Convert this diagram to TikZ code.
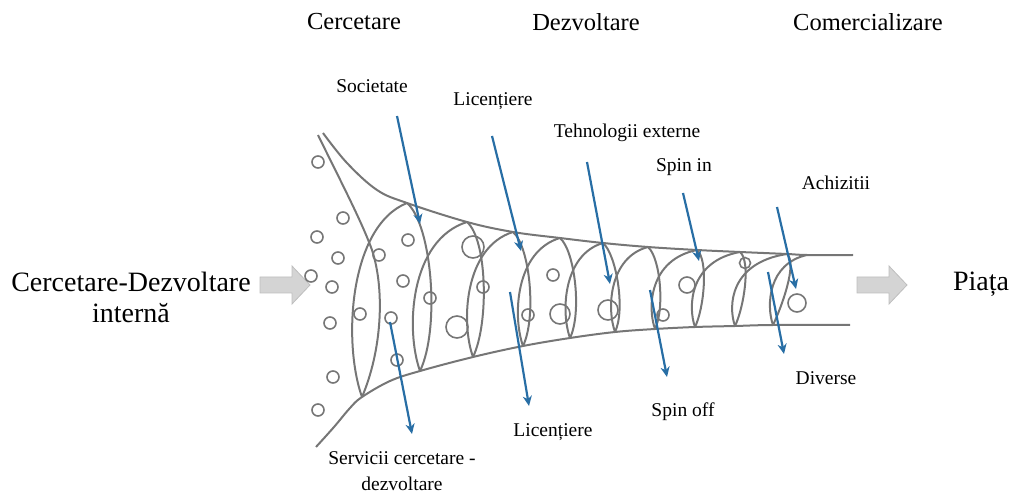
\documentclass[tikz,border=0pt]{standalone}
\usepackage{fontspec}
\setmainfont{Liberation Serif}
\usetikzlibrary{arrows.meta}
\definecolor{lensgray}{RGB}{118,118,118}
\definecolor{arrowblue}{RGB}{40,110,165}
\definecolor{blockfill}{RGB}{212,212,212}
\definecolor{blockedge}{RGB}{190,190,190}
\begin{document}
\begin{tikzpicture}[x=1pt,y=1pt,
  lens/.style={draw=lensgray, line width=2pt},
  dot/.style={draw=lensgray, line width=1.6pt},
  flow/.style={draw=arrowblue, line width=2.2pt, -{Stealth[length=10pt,width=9pt,inset=3pt]}},
  lbl/.style={font=\fontsize{19.5}{26}\selectfont, inner sep=0pt, align=center},
  head/.style={font=\fontsize{24.5}{29}\selectfont, inner sep=0pt},
  side/.style={font=\fontsize{28}{31}\selectfont, inner sep=0pt, align=center},
  block/.style={fill=blockfill, draw=blockedge, line width=0.8pt}]
\useasboundingbox (0,0) rectangle (1018,-494);

% headings
\node[head] (h1) at (354,-22) {Cercetare};
\node[head] (h2) at (586,-22) {Dezvoltare};
\node[head] (h3) at (868,-22) {Comercializare};

% side labels
\node[side] (rd) at (131,-297) {Cercetare-Dezvoltare\\internă};
\node[side] (mk) at (981,-284) {Piața};

% block arrows
\draw[block] (260,-277) -- (292,-277) -- (292,-266) -- (310,-285) -- (292,-304) -- (292,-293) -- (260,-293) -- cycle;
\draw[block] (857,-277) -- (889,-277) -- (889,-266) -- (907,-285) -- (889,-304) -- (889,-293) -- (857,-293) -- cycle;

% funnel outline
\draw[lens] plot[smooth, tension=0.6] coordinates {(323,-133) (347,-163) (377,-190) (407,-203) (467,-222) (513,-232) (560,-238) (603,-243) (648,-247) (697,-250) (740,-252) (787,-254) (807,-255) (853,-255)};
\draw[lens] plot[smooth, tension=0.6] coordinates {(316,-447) (334,-427) (350,-408) (362,-397) (390,-381) (420,-371) (473,-357) (523,-346) (570,-338) (615,-332) (655,-329) (695,-327) (735,-326) (773,-325) (850,-325)};

% leaves
\draw[lens] (318,-135) .. controls (340,-180) and (362,-222) .. (372,-250) .. controls (385,-290) and (382,-350) .. (362,-397);
% left-bulging arcs, bottom -> top
\foreach \bx/\by/\tx/\ty in {362/-397/407/-203, 420/-371/467/-222, 473/-357/513/-232, 523/-346/560/-238, 570/-338/603/-243, 615/-332/648/-247, 655/-329/697/-250, 695/-327/740/-252, 735/-326/787/-254, 773/-325/807/-255}{
  \pgfmathsetmacro\hh{\ty-\by}
  \draw[lens] (\bx,\by) .. controls ({\bx-0.1*\hh},{\by+0.28*\hh}) and ({\bx-0.067*\hh},{\ty-0.12*\hh}) .. (\tx,\ty);
}
% right-bulging arcs, top -> bottom
\foreach \tx/\ty/\bx/\by in {407/-203/420/-371, 467/-222/473/-357, 513/-232/523/-346, 560/-238/570/-338, 603/-243/615/-332, 648/-247/655/-329, 697/-250/695/-327, 740/-252/735/-326, 787/-254/773/-325}{
  \pgfmathsetmacro\hh{\ty-\by}
  \draw[lens] (\tx,\ty) .. controls ({\tx+0.15*\hh},{\ty-0.13*\hh}) and ({\bx+0.12*\hh},{\by+0.25*\hh}) .. (\bx,\by);
}

% circles
\foreach \cx/\cy/\r in {318/-162/6, 343/-218/6, 317/-237/6, 338/-258/6, 311/-276/6, 332/-287/6, 330/-323/6, 333/-377/6, 318/-410/6,
  408/-240/6, 379/-255/6, 403/-281/6, 430/-298/6, 360/-314/6, 391/-318/6, 397/-360/6,
  473/-247/11, 483/-287/6, 457/-327/11, 528/-315/6, 553/-275/6, 560/-314/10, 608/-310/10, 663/-315/6, 687/-285/8, 745/-263/5.5, 797/-303/9}
  \draw[dot] (\cx,\cy) circle (\r);

% labels
\node[lbl] (l1) at (372,-86) {Societate};
\node[lbl] (l2) at (493,-101) {Licențiere};
\node[lbl] (l3) at (627,-133) {Tehnologii externe};
\node[lbl] (l4) at (684,-167) {Spin in};
\node[lbl] (l5) at (836,-183) {Achizitii};
\node[lbl] (l6) at (402,-471) {Servicii cercetare -\\dezvoltare};
\node[lbl] (l7) at (553,-432) {Licențiere};
\node[lbl] (l8) at (683,-412) {Spin off};
\node[lbl] (l9) at (826,-378) {Diverse};

% blue flows
\coordinate (s1) at (397,-116); \coordinate (e1) at (420,-224);
\coordinate (s2) at (492,-136); \coordinate (e2) at (521,-251);
\coordinate (s3) at (587,-162); \coordinate (e3) at (610,-284);
\coordinate (s4) at (683,-193); \coordinate (e4) at (699,-261);
\coordinate (s5) at (777,-207); \coordinate (e5) at (796,-289);
\coordinate (s6) at (390,-322); \coordinate (e6) at (412,-434);
\coordinate (s7) at (510,-292); \coordinate (e7) at (529,-406);
\coordinate (s8) at (650,-290); \coordinate (e8) at (667,-377);
\coordinate (s9) at (768,-272); \coordinate (e9) at (784,-354);
\foreach \i in {1,...,9} \draw[flow] (s\i) -- (e\i);
\end{tikzpicture}
\end{document}
